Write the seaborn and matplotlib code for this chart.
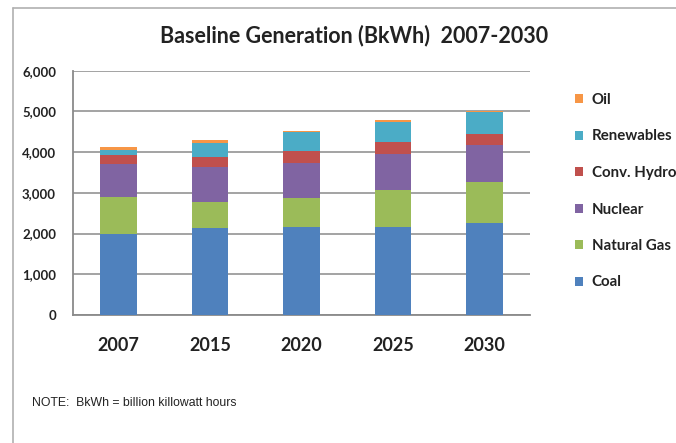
import numpy as np
import pandas as pd
import seaborn as sns
import matplotlib.pyplot as plt
from matplotlib.lines import Line2D
from matplotlib.ticker import FuncFormatter

years = ['2007', '2015', '2020', '2025', '2030']
coal = [2000, 2125, 2155, 2155, 2270]
natural_gas = [890, 650, 725, 920, 1000]
nuclear = [810, 860, 850, 885, 895]
conv_hydro = [240, 245, 310, 285, 285]
renewables = [120, 345, 450, 490, 530]
oil = [65, 65, 40, 60, 40]

sources = ['Coal', 'Natural Gas', 'Nuclear', 'Conv. Hydro', 'Renewables', 'Oil']
colors = ['#4F81BD', '#9BBB59', '#8064A2', '#C0504D', '#4BACC6', '#F79646']

df = pd.DataFrame({'year': years, 'Coal': coal, 'Natural Gas': natural_gas,
                   'Nuclear': nuclear, 'Conv. Hydro': conv_hydro,
                   'Renewables': renewables, 'Oil': oil})
cum = df[sources].cumsum(axis=1)

sns.set_style('white')
plt.rcParams['font.family'] = ['Lato', 'DejaVu Sans']

fig = plt.figure(figsize=(6.76, 4.43), dpi=100)
ax = fig.add_axes([72.7 / 676, 1 - 315 / 443, 457.3 / 676, 244.3 / 443])

# stacked look: draw the running totals from the top layer down
for name, c in zip(sources[::-1], colors[::-1]):
    sns.barplot(x=df['year'], y=cum[name], color=c, width=0.4, saturation=1,
                label=name, ax=ax, zorder=3, edgecolor='none', linewidth=0)

ax.set_ylim(0, 6000)
ax.set_yticks(range(0, 6001, 1000))
ax.yaxis.set_major_formatter(FuncFormatter(lambda v, p: f'{int(v):,}'))
ax.set_xlim(-0.5, 4.5)
ax.set_xlabel('')
ax.set_ylabel('')
ax.grid(axis='y', color='#8a8a8a', linewidth=1.1, zorder=0)
ax.set_axisbelow(True)
for s in ['top', 'right']:
    ax.spines[s].set_visible(False)
for s in ['left', 'bottom']:
    ax.spines[s].set_color('#8a8a8a')
    ax.spines[s].set_linewidth(1.3)
ax.tick_params(axis='y', length=0, pad=12, labelsize=9.5)
ax.tick_params(axis='x', length=0, pad=16, labelsize=13)
for lbl in ax.get_xticklabels() + ax.get_yticklabels():
    lbl.set_fontweight('bold')
    lbl.set_color('#222222')

fig.text(354 / 676, 1 - 36 / 443, 'Baseline Generation (BkWh)  2007-2030',
         ha='center', va='center', fontsize=15.5, fontweight='bold', color='#222222')

handles, labels = ax.get_legend_handles_labels()
if ax.legend_:
    ax.legend_.remove()
leg = fig.legend(handles, labels, loc='upper left',
                 bbox_to_anchor=(575 / 676, 1 - 93 / 443), frameon=False,
                 borderpad=0, borderaxespad=0, handlelength=0.55, handleheight=0.55,
                 handletextpad=0.55, labelspacing=1.5,
                 prop={'size': 10.8, 'weight': 'bold'})
for t in leg.get_texts():
    t.set_color('#222222')

fig.text(32 / 676, 1 - 403 / 443, 'NOTE:  BkWh = billion killowatt hours',
         ha='left', va='center', fontsize=8.8, family='Liberation Sans', color='#222222')

# slide frame, open to the right and bottom
fig.add_artist(Line2D([13 / 676, 13 / 676], [0, 1 - 8 / 443],
                      transform=fig.transFigure, color='#b0b0b0', linewidth=1.2))
fig.add_artist(Line2D([13 / 676, 1], [1 - 8 / 443, 1 - 8 / 443],
                      transform=fig.transFigure, color='#b0b0b0', linewidth=1.2))

plt.savefig('out.png')
